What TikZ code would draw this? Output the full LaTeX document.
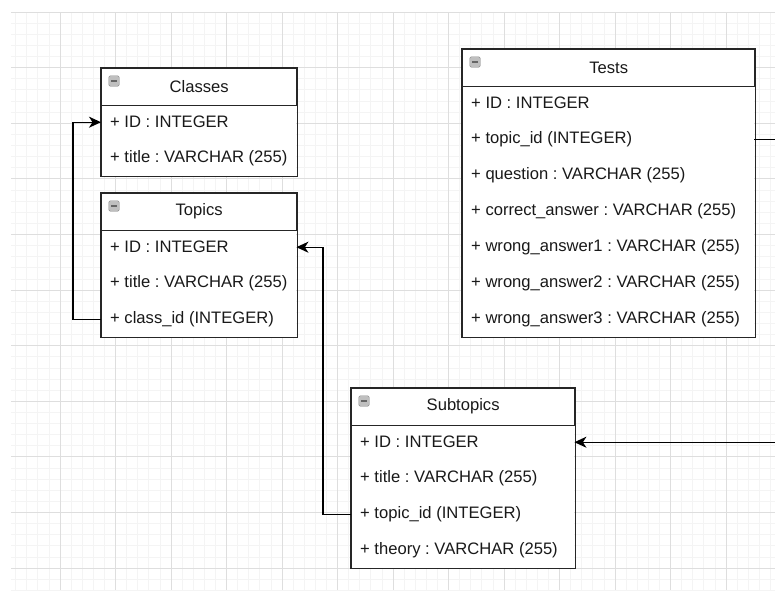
\documentclass[tikz,border=0pt]{standalone}
\usepackage{fontspec}
\setmainfont{Liberation Sans}
\usetikzlibrary{arrows.meta,fit}
\frenchspacing
\newcommand\erfont{\fontsize{16.6}{19}\selectfont\frenchspacing}
\tikzset{
  x=1pt, y=-1pt,
  minorgrid/.style={draw=black!4.5, line width=0.7pt},
  majorgrid/.style={draw=black!13, line width=0.9pt},
  hdr/.style={draw=black!85, fill=white, line width=1.3pt, minimum height=36pt,
    inner sep=0pt, anchor=north west, font=\erfont, text=black!90},
  rowbox/.style={fill=white, minimum height=36pt, inner xsep=9pt, inner ysep=0pt,
    anchor=north west, font=\erfont, text=black!90},
  outline/.style={draw=black!85, line width=1.3pt, inner sep=0pt},
  link/.style={draw=black, line width=1.3pt, -{Stealth[length=12pt,width=11pt,inset=3.5pt]}},
  tail/.style={draw=black, line width=1.3pt},
  minusicon/.style={draw=black!45, fill=black!25, rounded corners=1.5pt,
    minimum size=10.5pt, inner sep=0pt,
    path picture={\draw[black!60, line width=1.6pt]
      ([xshift=-3pt]path picture bounding box.center) --
      ([xshift=3pt]path picture bounding box.center);}}
}
% #1 name, #2 left, #3 top, #4 width, #5 title, #6 text width, #7 rows
\newcommand\ertable[7]{%
  \node[hdr, minimum width=#4] (#1) at (#2,#3) {#5};
  \foreach \r [count=\k] in {#7}{%
    \node[rowbox] (#1-\k) at (#2,{#3+36*\k}) {\makebox[#6pt][l]{\r}};
    \xdef\erlast{\k}%
  }
  \node[outline, fit=(#1) (#1-\erlast)] (#1-box) {};
  \draw[line width=1.3pt, draw=black!85] (#1.south west) -- (#1.south east);
  \node[minusicon] (#1-icon) at ([xshift=13pt,yshift=-13pt]#1.north west) {};
}
\begin{document}
\begin{tikzpicture}
\useasboundingbox (0,0) rectangle (775,590);
\fill[white] (0,0) rectangle (775,590);
\begin{scope}
  \clip (11,12) rectangle (775,590);
  \foreach \i in {0,...,70} \draw[minorgrid] ({4.5+11.1*\i},12) -- ({4.5+11.1*\i},590);
  \foreach \i in {0,...,52} \draw[minorgrid] (11,{12+11.12*\i}) -- (775,{12+11.12*\i});
  \foreach \i in {0,...,14} \draw[majorgrid] ({4.5+55.5*\i},12) -- ({4.5+55.5*\i},590);
  \foreach \i in {0,...,10} \draw[majorgrid] (11,{12+55.6*\i}) -- (775,{12+55.6*\i});
\end{scope}

\ertable{classes}{101}{68}{195}{Classes}{177}{+ ID : INTEGER, + title : VARCHAR (255)}
\ertable{topics}{101}{193}{195}{Topics}{177}{+ ID : INTEGER, + title : VARCHAR (255), + class\_id (INTEGER)}
\ertable{tests}{462}{49}{292}{Tests}{274}{+ ID : INTEGER, + topic\_id (INTEGER), + question : VARCHAR (255), + correct\_answer : VARCHAR (255), + wrong\_answer1 : VARCHAR (255), + wrong\_answer2 : VARCHAR (255), + wrong\_answer3 : VARCHAR (255)}
\ertable{subtopics}{351}{388}{223}{Subtopics}{205}{+ ID : INTEGER, + title : VARCHAR (255), + topic\_id (INTEGER), + theory : VARCHAR (255)}

\coordinate (rightedge) at (776,0);
\draw[link] (topics-3.west) -- ++(-28,0) |- (classes-1.west);
\draw[link] (subtopics-3.west) -- ++(-28,0) |- (topics-1.east);
\draw[tail] (tests-2.east) -- (tests-2.east -| rightedge);
\draw[link] (subtopics-1.east -| rightedge) -- (subtopics-1.east);
\end{tikzpicture}
\end{document}
